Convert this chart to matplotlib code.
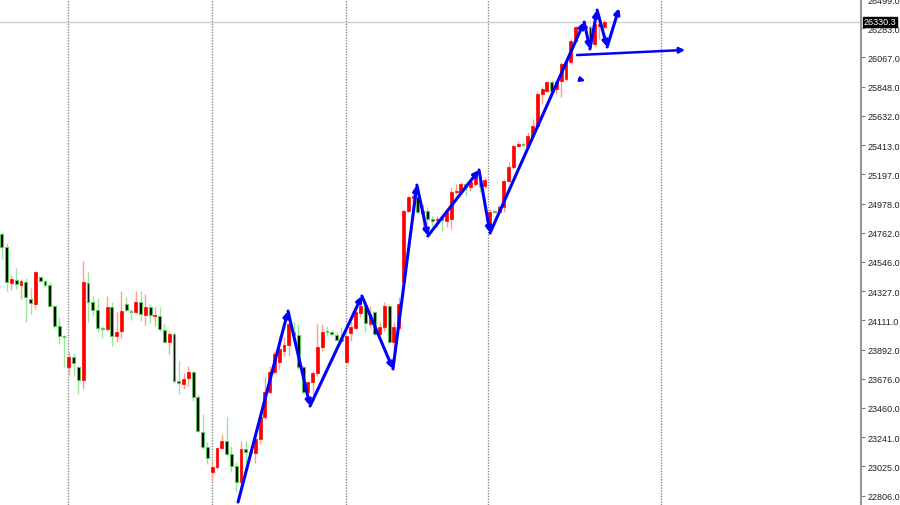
import matplotlib
matplotlib.use("Agg")
import matplotlib.pyplot as plt
import matplotlib.transforms as mtransforms
import numpy as np

plt.rcParams['font.family'] = ['Liberation Sans', 'DejaVu Sans']

# ---- data ----
opens = [24753, 24656, 24388, 24411, 24374, 24396, 24269, 24232, 24433, 24403,
         24374, 24217, 24068, 23994, 23764, 23838, 23764, 23667, 24388, 24247,
         24188, 24054, 24046, 24210, 23994, 24031, 24232, 24180, 24173, 24247,
         24150, 24210, 24143, 24143, 24039, 23949, 24009, 23659, 23637, 23682,
         23726, 23540, 23280, 23168, 22982, 23020, 23161, 23213, 23116, 23027,
         22908, 23154, 23131, 23124, 23228, 23392, 23578, 23726, 23801, 23883,
         23927, 24024, 24002, 23764, 23578, 23652, 23719, 23912, 24031, 24024,
         24002, 23972, 23801, 24017, 24054, 24165, 24225, 24083, 24173, 24009,
         24061, 24217, 23949, 24054, 24396, 24924, 25021, 25028, 24909, 24924,
         24864, 24857, 24872, 24849, 24864, 25065, 25065, 25125, 25102, 25125,
         25140, 25110, 24812, 24924, 24916, 24954, 25147, 25251, 25407, 25422,
         25407, 25482, 25556, 25794, 25817, 25884, 25832, 25891, 25906, 26032,
         26189, 26285, 26285, 26293, 26166, 26300, 26293]
highs = [24768, 24686, 24448, 24500, 24418, 24426, 24351, 24478, 24440, 24411,
         24396, 24225, 24135, 24001, 23875, 23868, 23771, 24552, 24470, 24292,
         24277, 24068, 24292, 24247, 24173, 24329, 24284, 24195, 24329, 24329,
         24307, 24232, 24210, 24210, 24091, 24031, 24024, 23808, 23719, 23771,
         23734, 23563, 23414, 23206, 23064, 23161, 23265, 23392, 23176, 23057,
         23213, 23213, 23139, 23243, 23414, 23697, 23771, 23883, 23994, 23987,
         24173, 24098, 24083, 23779, 23652, 23734, 24083, 24083, 24068, 24039,
         24024, 24061, 24009, 24098, 24225, 24284, 24254, 24217, 24180, 24098,
         24247, 24232, 24098, 24284, 24939, 25036, 25073, 25073, 24976, 24954,
         24887, 24887, 24879, 24939, 25102, 25125, 25140, 25140, 25162, 25184,
         25162, 25177, 24939, 24931, 24969, 25162, 25288, 25422, 25445, 25437,
         25512, 25608, 25809, 25846, 25888, 25898, 25891, 26032, 26040, 26203,
         26300, 26315, 26308, 26308, 26337, 26337, 26345]
lows = [24567, 24329, 24336, 24344, 24269, 24098, 24158, 24195, 24396, 24359,
        24210, 24054, 23935, 23764, 23704, 23697, 23563, 23600, 24098, 24143,
        24024, 23979, 24031, 23920, 23949, 23979, 24173, 24113, 24165, 24106,
        24076, 24091, 24068, 24031, 23942, 23860, 23644, 23563, 23600, 23622,
        23511, 23280, 23154, 23042, 22908, 23005, 23154, 23101, 22982, 22834,
        22834, 23042, 23116, 23049, 23191, 23377, 23563, 23711, 23749, 23845,
        23845, 23949, 23749, 23563, 23563, 23563, 23697, 23883, 23994, 23994,
        23957, 23949, 23795, 23957, 24046, 24135, 24024, 24061, 23994, 23994,
        24031, 23945, 23845, 24046, 24381, 24916, 24916, 24902, 24775, 24827,
        24812, 24805, 24775, 24805, 24790, 25050, 25050, 25036, 25073, 25110,
        25065, 25088, 24753, 24909, 24902, 24916, 25140, 25236, 25400, 25407,
        25400, 25475, 25549, 25720, 25809, 25809, 25794, 25772, 25891, 26017,
        26181, 26270, 26270, 26151, 26151, 26203, 26278]
closes = [24656, 24396, 24418, 24381, 24403, 24284, 24240, 24470, 24403, 24374,
          24217, 24068, 23994, 23987, 23838, 23793, 23667, 24396, 24247, 24188,
          24054, 24046, 24210, 23994, 24024, 24180, 24188, 24173, 24247, 24158,
          24210, 24150, 24150, 24046, 23949, 24009, 23659, 23644, 23674, 23726,
          23540, 23287, 23168, 23087, 23020, 23161, 23213, 23116, 23027, 22908,
          23154, 23131, 23124, 23228, 23392, 23578, 23726, 23860, 23897, 23927,
          24083, 24002, 23764, 23578, 23652, 23719, 23912, 24024, 24024, 24009,
          23964, 23957, 23994, 24061, 24173, 24217, 24091, 24158, 24009, 24061,
          24217, 23950, 24061, 24232, 24924, 25028, 25036, 24916, 24924, 24864,
          24849, 24864, 24857, 24916, 25065, 25073, 25125, 25102, 25140, 25177,
          25110, 25155, 24916, 24916, 24954, 25147, 25251, 25407, 25422, 25415,
          25482, 25556, 25794, 25832, 25884, 25817, 25884, 26017, 26032, 26189,
          26293, 26300, 26300, 26166, 26315, 26315, 26330.3]

last_price = 26330.3
price_ticks = [22806, 23025, 23241, 23460, 23676, 23892, 24111, 24327, 24546,
               24762, 24978, 25197, 25413, 25632, 25848, 26067, 26283, 26499]
separators = [13.9, 43.95, 72.0, 101.7, 137.9]

# blue zigzag drawing (bar index, price)
zig_x = [49.4, 59.85, 64.45, 75.3, 81.8, 86.8, 89.1, 99.8, 102.1, 121.8, 123.0, 124.5, 126.6, 129.1]
zig_y = [22759, 24180, 23473, 24292, 23749, 25117, 24738, 25229, 24760, 26330, 26129, 26419, 26144, 26434]
hline_x = [120.3, 142.9]
hline_y = [26084, 26122]
small_x = [120.7, 122.0]
small_y = [25906, 25891]

# ---- figure ----
fig = plt.figure(figsize=(9, 5.06), dpi=100)
ax = fig.add_axes([0, 0, 861 / 900, 1])
ax.set_xlim(-0.4, 179.7)
ax.set_ylim(22737, 26501)

n = len(opens)
idx = np.arange(n)
o = np.array(opens, float); c = np.array(closes, float)
h = np.array(highs, float); l = np.array(lows, float)
up = c >= o

# separators and last-price line
for s in separators:
    ax.axvline(s, color='#8c8c8c', lw=1, ls=(0, (1, 1)), zorder=1)
ax.axhline(last_price, color='#d0d0d0', lw=1, zorder=1)

# wicks
ax.vlines(idx[up], l[up], h[up], color='#ff9f85', lw=1, zorder=2)
ax.vlines(idx[~up], l[~up], h[~up], color='#9be69b', lw=1, zorder=2)

# bodies
minh = 6.0
bh = np.maximum(np.abs(c - o), minh)
bottom = np.minimum(o, c)
ax.bar(idx[up], bh[up], bottom=bottom[up], width=0.6, color='#ff0000',
       edgecolor='#ff0000', linewidth=0.5, zorder=3)
ax.bar(idx[~up], bh[~up], bottom=bottom[~up], width=0.6, color='#000000',
       edgecolor='#5cc85c', linewidth=0.8, zorder=3)

# blue drawings
arrow_kw = dict(arrowstyle='-|>', color='#0000ff', lw=2.2, mutation_scale=8,
                shrinkA=0, shrinkB=0)
for k in range(len(zig_x) - 1):
    ax.annotate('', xy=(zig_x[k + 1], zig_y[k + 1]), xytext=(zig_x[k], zig_y[k]),
                arrowprops=arrow_kw, zorder=5)
ax.annotate('', xy=(hline_x[1], hline_y[1]), xytext=(hline_x[0], hline_y[0]),
            arrowprops=dict(arrow_kw, lw=1.8), zorder=5)
ax.annotate('', xy=(small_x[1], small_y[1]), xytext=(small_x[0], small_y[0]),
            arrowprops=dict(arrow_kw, lw=1.5, mutation_scale=7), zorder=5)

# axes styling
for side in ['left', 'top', 'bottom']:
    ax.spines[side].set_visible(False)
ax.spines['right'].set_color('#808080')
ax.spines['right'].set_linewidth(1.2)
ax.set_xticks([])
ax.yaxis.tick_right()
ax.set_yticks(price_ticks)
ax.set_yticklabels([f"{v:.1f}" for v in price_ticks])
ax.tick_params(axis='y', direction='out', length=3, width=0.8, color='#808080',
               labelsize=6.5, labelcolor='#202020', pad=1.5)

# last price label
trans = mtransforms.blended_transform_factory(ax.transAxes, ax.transData)
ax.text(1.003, last_price, f"{last_price:.1f}", transform=trans, fontsize=6.5,
        color='white', va='center', ha='left', zorder=10,
        bbox=dict(boxstyle='square,pad=0.1', fc='black', ec='black'))

fig.savefig('out.png', dpi=100)
